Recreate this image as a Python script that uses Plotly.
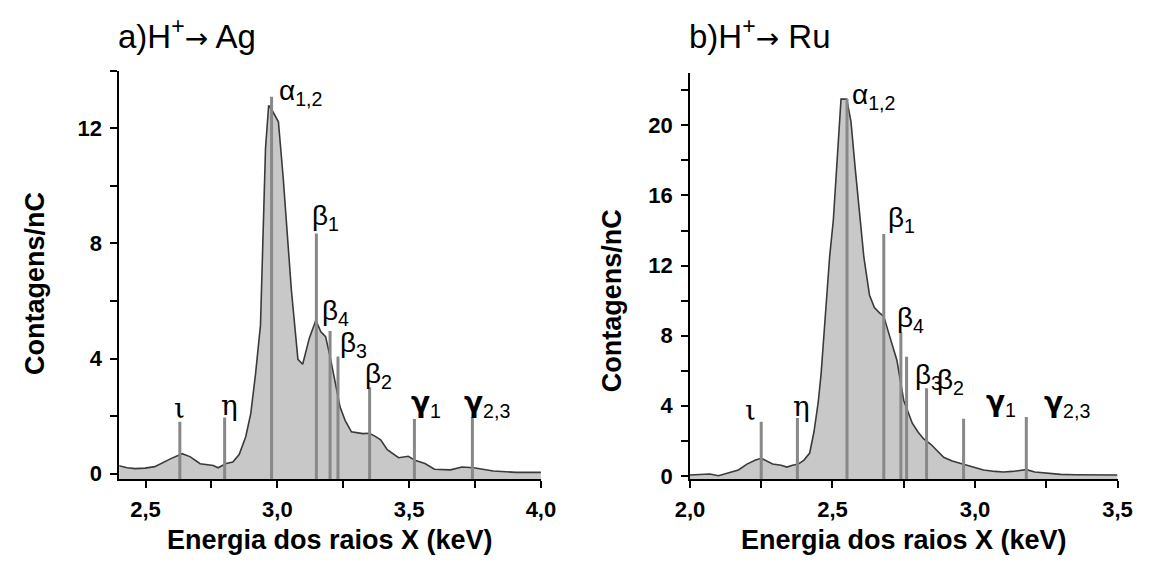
import plotly.graph_objects as go

# ---------------- data ----------------
ag_energy = [2.396, 2.43, 2.461, 2.498, 2.535, 2.565, 2.596, 2.639, 2.670, 2.707, 2.757, 2.775,
             2.806, 2.831, 2.855, 2.880, 2.899, 2.917, 2.936, 2.955, 2.967, 2.980, 3.004, 3.022,
             3.041, 3.053, 3.078, 3.096, 3.121, 3.146, 3.165, 3.183, 3.201, 3.220, 3.238, 3.257,
             3.281, 3.324, 3.349, 3.370, 3.392, 3.417, 3.460, 3.497, 3.522, 3.560, 3.596, 3.657,
             3.700, 3.745, 3.819, 3.905, 4.000]
ag_counts = [0.28, 0.20, 0.17, 0.19, 0.24, 0.38, 0.52, 0.69, 0.58, 0.34, 0.28, 0.20,
             0.35, 0.40, 0.66, 1.28, 2.08, 3.45, 5.16, 11.3, 12.8, 12.63, 12.23, 10.3,
             8.0, 6.4, 3.97, 3.80, 4.70, 5.33, 4.93, 4.76, 4.02, 3.11, 2.31, 1.85,
             1.45, 1.39, 1.40, 1.30, 1.17, 0.83, 0.55, 0.60, 0.46, 0.35, 0.15, 0.13,
             0.23, 0.20, 0.09, 0.04, 0.04]
ag_line_energy = [2.63, 2.80, 2.978, 3.148, 3.20, 3.23, 3.35, 3.52, 3.74]
ag_line_height = [1.8, 1.95, 13.1, 8.35, 4.96, 4.07, 3.0, 1.9, 1.97]

ru_energy = [2.00, 2.04, 2.07, 2.10, 2.14, 2.17, 2.20, 2.23, 2.25, 2.27, 2.29, 2.32, 2.34,
             2.36, 2.38, 2.40, 2.42, 2.435, 2.45, 2.46, 2.47, 2.48, 2.49, 2.503, 2.515, 2.53,
             2.55, 2.565, 2.58, 2.595, 2.61, 2.63, 2.647, 2.665, 2.68, 2.70, 2.726, 2.75, 2.78,
             2.80, 2.82, 2.845, 2.87, 2.89, 2.92, 2.96, 3.00, 3.03, 3.07, 3.10, 3.13, 3.16,
             3.18, 3.21, 3.25, 3.30, 3.35, 3.40, 3.46, 3.50]
ru_counts = [0.05, 0.08, 0.10, 0.00, 0.20, 0.33, 0.67, 0.90, 1.00, 0.85, 0.67, 0.60, 0.50,
             0.60, 0.67, 0.90, 1.30, 2.50, 4.20, 5.80, 8.00, 10.5, 12.5, 14.6, 18.0, 21.5,
             21.5, 20.2, 17.5, 15.2, 12.5, 10.3, 9.6, 9.3, 9.1, 8.0, 6.6, 4.3, 3.0,
             2.5, 2.1, 1.8, 1.4, 1.06, 0.85, 0.67, 0.45, 0.33, 0.25, 0.22, 0.25, 0.33,
             0.35, 0.22, 0.15, 0.08, 0.06, 0.05, 0.05, 0.05]
ru_line_energy = [2.25, 2.377, 2.551, 2.68, 2.74, 2.76, 2.83, 2.96, 3.18]
ru_line_height = [3.08, 3.3, 21.5, 13.8, 8.2, 6.8, 5.0, 3.25, 3.35]

GAMMA = "<span style='font-family:DejaVu Sans'><b>γ</b></span>"
line_labels = ["ι", "η", "α<sub>1,2</sub>", "β<sub>1</sub>", "β<sub>4</sub>", "β<sub>3</sub>",
               "β<sub>2</sub>", GAMMA + "<sub>1</sub>", GAMMA + "<sub>2,3</sub>"]
x_ticks = [2.0, 2.5, 3.0, 3.5, 4.0]

# ---------------- style / layout ----------------
W, H = 1152, 570
FONT = "Liberation Sans"
FILL = "#c8c8c8"
CURVE = "#3a3a3a"
PEAK = "#888888"
ARROW = "<span style='font-family:DejaVu Sans;font-size:28px'>→</span>"

# label placement (pixel offsets of label relative to top of its line)
ag_label_off = [(-6, 8), (-4, 6), (7, -2), (-4, 9.5), (-8, 11.5), (2, 5.5), (-5, 5.5), (-3, 7.5), (-8, 5.5)]
ru_label_off = [(-16, 6), (-4, 6), (5, -4), (4, 8.5), (-4, 6.5), (8, -26), (10, 0), (22, 8.5), (18, 6.5)]
label_font = {"ι": "DejaVu Serif", "η": "DejaVu Serif"}

panels = [
    dict(energy=ag_energy, counts=ag_counts, le=ag_line_energy, lh=ag_line_height,
         off=ag_label_off, xr=[2.4, 4.0], yr=[-0.2, 14.0], px=(107, 540), py=(72, 487),
         title="a)H<sup>+</sup>" + ARROW + " Ag", tx=104, ytitle=288, ytx=21),
    dict(energy=ru_energy, counts=ru_counts, le=ru_line_energy, lh=ru_line_height,
         off=ru_label_off, xr=[2.0, 3.5], yr=[-0.2, 23.0], px=(693, 1132), py=(74, 487),
         title="b)H<sup>+</sup>" + ARROW + " Ru", tx=690, ytitle=306, ytx=613),
]

fig = go.Figure()
layout = dict(width=W, height=H, margin=dict(l=0, r=0, t=0, b=0), paper_bgcolor="white",
              plot_bgcolor="white", showlegend=False, separators=",.",
              font=dict(family=FONT, color="black"))
annotations = []

for i, p in enumerate(panels):
    n = 2 * i + 1
    xa = "x" if n == 1 else f"x{n}"
    ya = "y" if n == 1 else f"y{n}"
    xdom = [p["px"][0] / W, p["px"][1] / W]
    ydom = [1 - p["py"][1] / H, 1 - p["py"][0] / H]
    ymin = p["yr"][0]

    # baseline for the fill (bottom of the plot area)
    fig.add_trace(go.Scatter(x=[p["energy"][0], p["energy"][-1]], y=[ymin, ymin], mode="lines",
                             line=dict(width=0, color=FILL), xaxis=xa, yaxis=ya, hoverinfo="skip"))
    fig.add_trace(go.Scatter(x=p["energy"], y=p["counts"], mode="lines", fill="tonexty",
                             fillcolor=FILL, line=dict(color=CURVE, width=1.6), xaxis=xa, yaxis=ya))
    lx, ly = [], []
    for e, h in zip(p["le"], p["lh"]):
        lx += [e, e, None]
        ly += [ymin, h, None]
    fig.add_trace(go.Scatter(x=lx, y=ly, mode="lines", line=dict(color=PEAK, width=3),
                             xaxis=xa, yaxis=ya, hoverinfo="skip"))

    axis_common = dict(showgrid=False, zeroline=False, showline=True, linecolor="black",
                       linewidth=1.5)
    tickfont = dict(family=FONT, size=22, weight="bold", color="black")
    layout[("xaxis" if n == 1 else f"xaxis{n}")] = dict(
        axis_common, domain=xdom, range=p["xr"], anchor=ya, tickmode="array", tickvals=x_ticks,
        tickformat=".1f", ticks="outside", ticklen=7, tickwidth=1.5, tickcolor="black",
        ticklabelstandoff=3,
        minor=dict(dtick=0.25, tick0=2.0, ticks="outside", ticklen=7, tickwidth=1.5, tickcolor="black"),
        tickfont=tickfont)
    layout[("yaxis" if n == 1 else f"yaxis{n}")] = dict(
        axis_common, domain=ydom, range=p["yr"], anchor=xa, dtick=4, tick0=0,
        ticks="outside", ticklen=7, tickwidth=1.5, tickcolor="black", ticklabelstandoff=4,
        minor=dict(dtick=2, tick0=0, ticks="outside", ticklen=7, tickwidth=1.5, tickcolor="black"),
        tickfont=tickfont)
    layout[f"xaxis{n+1}"] = dict(axis_common, overlaying=xa, side="top", anchor=ya, range=p["xr"],
                                 dtick=0.25, tick0=2.0, ticks="inside", ticklen=3, tickwidth=1.2,
                                 tickcolor="black", showticklabels=False)
    layout[f"yaxis{n+1}"] = dict(axis_common, overlaying=ya, side="right", anchor=xa, range=p["yr"],
                                 dtick=2, tick0=0, ticks="inside", ticklen=3, tickwidth=1.2,
                                 tickcolor="black", showticklabels=False)

    # peak labels
    for lab, e, h, (dx, up) in zip(line_labels, p["le"], p["lh"], p["off"]):
        fam = label_font.get(lab[0], FONT)
        annotations.append(dict(x=e, y=h, xref=xa, yref=ya, text=lab, showarrow=False,
                                xanchor="left", yanchor="bottom", xshift=dx - 2, yshift=up - 13,
                                font=dict(family=fam, size=28, color="black")))
    # panel title
    annotations.append(dict(x=p["tx"] / W, y=1 - 35 / H, xref="paper", yref="paper", text=p["title"],
                            showarrow=False, xanchor="left", yanchor="middle",
                            font=dict(family=FONT, size=33, color="black")))
    # axis titles
    annotations.append(dict(x=(xdom[0] + xdom[1]) / 2, y=1 - 549 / H, xref="paper", yref="paper",
                            text="Energia dos raios X (keV)", showarrow=False, xanchor="center",
                            yanchor="middle", font=dict(family=FONT, size=27, weight="bold", color="black")))
    annotations.append(dict(x=p["ytx"] / W, y=1 - p["ytitle"] / H, xref="paper", yref="paper",
                            text="Contagens/nC", textangle=-90, showarrow=False, xanchor="center",
                            yanchor="middle", font=dict(family=FONT, size=27, weight="bold", color="black")))

layout["annotations"] = annotations
fig.update_layout(**layout)
fig.write_html("out.html")
